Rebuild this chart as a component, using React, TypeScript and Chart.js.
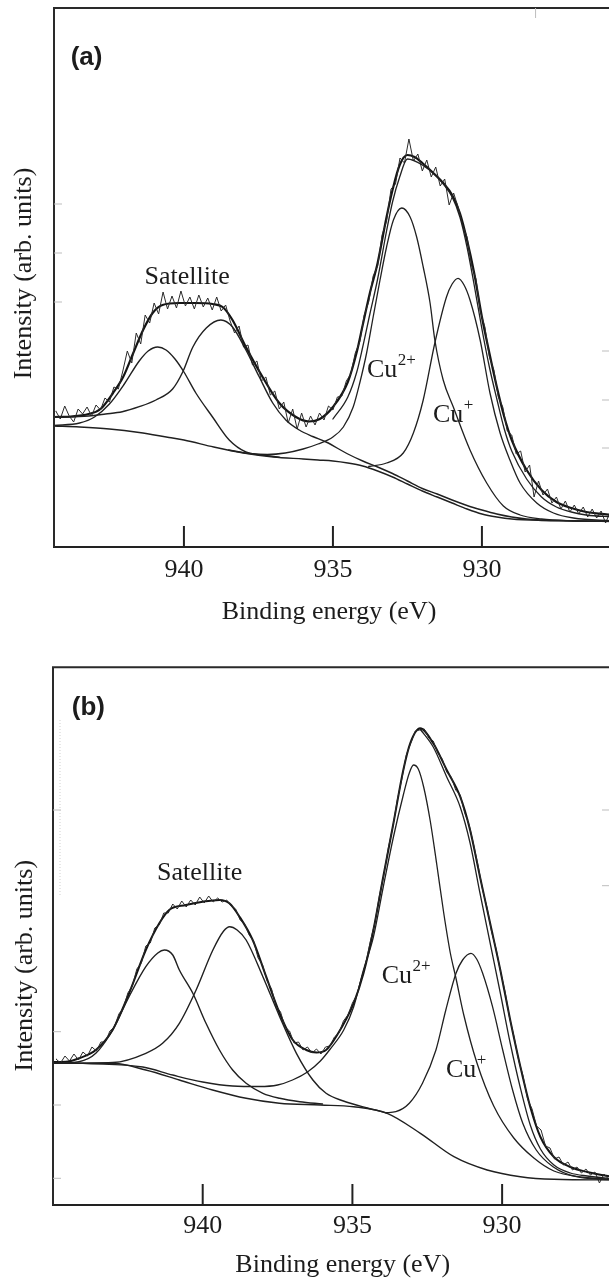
import React, { useEffect, useRef } from "react";
import { Chart, registerables } from "chart.js";

Chart.register(...registerables);

// ---------------- shared ----------------
const X_TICKS = [940, 935, 930];

// ---------------- panel (a) ----------------
const A_SCAN_START = 944.3;
const A_SCAN_STEP = 0.15;
const A_SCAN = [
  136, 128, 141, 131, 125, 138, 133, 140, 131, 142,
  137, 149, 145, 160, 158, 176, 196, 184, 214, 203,
  232, 224, 244, 233, 255, 238, 251, 239, 256, 241,
  250, 238, 252, 240, 249, 237, 250, 236, 242, 226,
  214, 221, 200, 202, 182, 186, 166, 170, 152, 156,
  138, 145, 124, 138, 118, 134, 120, 131, 122, 134,
  127, 141, 137, 150, 151, 166, 173, 194, 205, 232,
  245, 271, 281, 312, 326, 358, 363, 389, 384, 408,
  386, 393, 376, 387, 370, 380, 361, 368, 342, 354,
  340, 322, 310, 282, 268, 235, 220, 190, 177, 150,
  140, 116, 112, 93, 96, 75, 82, 50, 66, 52,
  58, 44, 50, 38, 46, 35, 42, 33, 40, 30,
  38, 29, 36, 24, 35,
];

const A_ENV_E = [944.36, 943.8, 943.2, 942.8, 942.38, 942.04, 941.7, 941.37, 941.05, 940.72, 940.16, 939.6, 939.04, 938.7, 938.37, 937.92, 937.36, 936.8, 936.24, 935.8, 935.44, 935.0, 934.5, 934.2, 934.0, 933.76, 933.5, 933.2, 933.0, 932.76, 932.5, 932.26, 932.0, 931.63, 931.3, 931.0, 930.74, 930.5, 930.26, 930.0, 929.75, 929.5, 929.25, 929.0, 928.5, 928.0, 927.5, 927.0, 926.5, 925.6];
const A_ENV_V = [130, 130.5, 133, 138, 154, 170, 194, 217, 234, 242, 244, 244, 243, 240, 227, 200, 170, 144, 130, 125.5, 128, 140, 165, 195, 222, 254, 284, 330, 357, 382, 392, 390, 384, 374, 364, 352, 334, 307, 274, 230, 194, 160, 130, 107, 77, 57, 45, 39, 35, 32];

const A_FIT_E = [935.0, 934.5, 934.2, 934.0, 933.76, 933.5, 933.2, 933.0, 932.76, 932.5, 932.0, 931.5, 931.0, 930.74, 930.5, 930.26, 930.0, 929.75, 929.5, 929.25, 929.0, 928.5, 928.0, 927.5, 927.0, 926.5, 925.6];
const A_FIT_V = [128, 150, 175, 200, 233, 268, 316, 345, 370, 388, 382, 370, 350, 330, 300, 262, 218, 180, 148, 118, 96, 68, 50, 40, 35, 32, 30];

const A_BG_E = [944.36, 943.5, 942.5, 941.5, 940.5, 940, 939, 938, 937, 936, 935.5, 935, 934.5, 934, 933.5, 933, 932.5, 932, 931.5, 931, 930.5, 930, 929.5, 929, 928, 927, 925.6];
const A_BG_V = [121, 120, 118, 114.5, 109.5, 107, 100, 94, 90, 88, 87, 86, 84, 81, 76, 70, 63, 56, 50, 44, 38, 33, 30, 28, 26.5, 26, 25.5];

const A_SAT1_E = [944.36, 943.5, 943.0, 942.5, 942.0, 941.5, 941.2, 940.88, 940.6, 940.3, 940.0, 939.6, 939.04, 938.48, 937.92, 937.36, 936.8];
const A_SAT1_V = [121.5, 124, 130, 143, 163, 186, 196, 200, 197, 188, 175, 154, 130, 107, 95, 92, 89.8];

const A_SAT2_E = [944.36, 943.2, 942.63, 942.07, 941.5, 940.94, 940.38, 940.04, 939.7, 939.25, 938.76, 938.37, 937.92, 937.47, 937.02, 936.58, 936.13, 935.68, 935.23, 934.5, 934.0, 933.5, 933.0, 932.5, 932.0, 931.5, 931.0, 930.5, 930.0, 929.5, 929.0, 928.5, 928.0, 927.0, 925.6];
const A_SAT2_V = [129.7, 131, 133, 135.3, 140.3, 147, 158, 175, 200, 219, 227, 220, 197, 170, 144, 127, 117, 110.5, 105, 93, 86, 80, 73.5, 66, 58.5, 53, 47, 41.5, 37, 33, 30, 28, 27, 26.2, 25.6];

const A_CU2_E = [938.5, 937.8, 937.2, 936.6, 936.0, 935.5, 935.0, 934.65, 934.32, 934.1, 933.87, 933.65, 933.42, 933.2, 932.97, 932.69, 932.41, 932.19, 931.97, 931.74, 931.58, 931.3, 930.96, 930.4, 929.84, 929.28, 928.72, 928.0, 927.0, 925.6];
const A_CU2_V = [97, 93.5, 92.5, 94, 98, 103, 110, 120, 140, 164, 194, 230, 267, 300, 327, 339, 330, 310, 280, 244, 207, 167, 140, 97, 64, 41, 32, 28, 26.2, 25.6];

const A_CU1_E = [933.8, 933.2, 932.64, 932.3, 931.97, 931.58, 931.19, 931.0, 930.8, 930.6, 930.4, 930.06, 929.73, 929.39, 929.06, 928.72, 928.16, 927.6, 926.93, 925.6];
const A_CU1_V = [80.5, 84, 94, 114, 147, 204, 250, 263, 268.7, 262, 247, 207, 154, 114, 87, 64, 44, 34, 29, 26];

// ---------------- panel (b) ----------------
const B_SCAN_START = 944.9;
const B_SCAN_STEP = 0.15;
const B_SCAN = [
  146, 142, 149, 144, 151, 145, 153, 149, 158, 154,
  163, 163, 174, 178, 191, 197, 212, 219, 236, 242,
  259, 262, 277, 280, 292, 292, 301, 296, 304, 298,
  305, 300, 308, 302, 309, 303, 307, 303, 305, 299,
  296, 285, 281, 270, 264, 247, 240, 224, 216, 199,
  193, 178, 174, 162, 163, 155, 158, 152, 156, 151,
  158, 159, 168, 172, 184, 190, 202, 210, 227, 242,
  264, 282, 309, 330, 357, 378, 405, 426, 450, 462,
  474, 475, 476, 467, 464, 452, 446, 433, 428, 415,
  410, 392, 380, 360, 339, 315, 297, 273, 256, 233,
  213, 187, 168, 145, 129, 106, 96, 79, 75, 59,
  57, 46, 48, 40, 43, 35, 38, 32, 36, 30,
  33, 22, 31, 26,
];

const B_ENV_E = [945.0, 944.5, 944.13, 943.57, 943.01, 942.46, 941.9, 941.45, 941.12, 940.56, 940.0, 939.44, 939.11, 938.77, 938.33, 937.88, 937.43, 936.99, 936.54, 936.2, 935.88, 935.51, 934.96, 934.63, 934.3, 933.97, 933.63, 933.3, 933.07, 932.74, 932.3, 931.85, 931.4, 931.07, 930.74, 930.4, 930.06, 929.73, 929.39, 929.06, 928.72, 928.27, 927.72, 927.16, 926.2];
const B_ENV_V = [143, 143.5, 146.7, 155, 175, 211.7, 255, 281.7, 295, 300, 303.3, 305, 301.7, 288.3, 265, 228.3, 191.7, 165, 155, 152.5, 155, 170, 201.7, 231.7, 275, 328.3, 381.7, 435, 461.7, 476.7, 461.7, 435, 408.3, 375, 328.3, 281.7, 235, 185, 138.3, 98, 68, 48, 38, 33, 27.5];

const B_FIT_E = [932.74, 932.3, 931.85, 931.4, 931.07, 930.74, 930.4, 930.06, 929.73, 929.39, 929.06, 928.72, 928.27, 927.72, 927.16, 926.2];
const B_FIT_V = [476, 458, 428, 398, 362, 312, 262, 212, 162, 117, 80, 56, 40, 32, 29, 26];

const B_BG_E = [945.0, 943.0, 941.9, 940.78, 939.67, 938.55, 937.44, 936.07, 934.96, 933.84, 932.73, 931.61, 930.5, 929.39, 928.27, 926.2];
const B_BG_V = [141.7, 141.7, 135, 125, 115, 106.7, 101.7, 100, 98.3, 91.7, 71.7, 48.3, 35, 28.3, 25.7, 25];

const B_SAT1_E = [945.0, 944.13, 943.57, 943.01, 942.46, 941.9, 941.5, 941.28, 941.0, 940.78, 940.33, 939.89, 939.44, 939.0, 938.55, 937.99, 937.43, 936.76, 936.0];
const B_SAT1_V = [141.7, 143.3, 151.7, 175, 208.3, 238.3, 252, 255, 250, 235, 211.7, 181.7, 155, 135, 121.7, 111.7, 106.7, 103.3, 101];

const B_SAT2_E = [945.0, 943.0, 941.9, 941.34, 940.78, 940.22, 939.66, 939.3, 939.1, 938.85, 938.55, 937.99, 937.43, 936.87, 936.32, 935.88, 935.3, 934.5, 933.84];
const B_SAT2_V = [141.7, 142.5, 151.7, 161.7, 181.7, 215, 255, 274, 278.3, 275, 265, 228.3, 188.3, 151.7, 125, 111.7, 104, 97, 92];

const B_CU2_E = [944.0, 942.0, 941.0, 940.0, 939.0, 938.1, 937.5, 937.0, 936.5, 936.07, 935.74, 935.29, 934.96, 934.64, 934.3, 933.97, 933.63, 933.3, 933.1, 932.96, 932.8, 932.62, 932.4, 932.18, 931.95, 931.73, 931.55, 931.28, 930.84, 930.28, 929.61, 928.94, 928.27, 927.38, 926.2];
const B_CU2_V = [141.7, 138, 130, 123, 119, 118.5, 120, 125, 133, 144, 156, 175, 198, 234, 268, 318, 368, 410, 432, 440, 436, 418, 384, 340, 292, 252, 228, 190, 142, 99, 67, 47, 34, 28, 25.3];

const B_CU1_E = [933.88, 933.55, 933.1, 932.66, 932.21, 931.88, 931.54, 931.32, 931.04, 930.85, 930.65, 930.32, 929.98, 929.65, 929.31, 928.86, 928.3, 927.52, 926.2];
const B_CU1_V = [92.3, 93.3, 101.7, 121.7, 155, 195, 231.7, 245, 251.7, 246, 231.7, 198.3, 155, 115, 81.7, 55, 38.3, 28.3, 25.3];

// ---------------- helpers ----------------
const SERIF = '"Liberation Serif", "Times New Roman", serif';
const SANS = '"Liberation Sans", Arial, sans-serif';
const INK = "#1c1c1c";

function pairs(E: number[], V: number[]) {
  return E.map((e, i) => ({ x: e, y: V[i] }));
}
function scanPoints(start: number, step: number, V: number[]) {
  return V.map((v, i) => ({ x: Math.round((start - i * step) * 100) / 100, y: v }));
}

type Ann = { text: string; sup?: string; x: number; y: number };
type Panel = {
  key: string;
  height: number;
  padLeft: number;
  padRight: number;
  padTop: number;
  axisH: number;
  xMin: number;
  xMax: number;
  yMax: number;
  tickPad: number;
  label: { text: string; x: number; y: number };
  yTitle: { x: number; y: number };
  xTitle: { x: number; y: number };
  anns: Ann[];
  leftTicks: number[];
  rightTicks: number[];
  topMark?: number;
  dotted?: { x: number; y1: number; y2: number };
  datasets: any[];
};

function smooth(data: any[], width: number, color = "#202020") {
  return {
    data,
    borderColor: color,
    borderWidth: width,
    pointRadius: 0,
    fill: false,
    cubicInterpolationMode: "monotone",
  };
}
function raw(data: any[]) {
  return {
    data,
    borderColor: "#2a2a2a",
    borderWidth: 1,
    pointRadius: 0,
    fill: false,
    tension: 0,
  };
}

const PANEL_A: Panel = {
  key: "a",
  height: 640,
  padLeft: 54,
  padRight: 28,
  padTop: 8,
  axisH: 93,
  xMin: 925.635,
  xMax: 944.36,
  yMax: 539,
  tickPad: 8,
  label: { text: "(a)", x: 70.7, y: 64.5 },
  yTitle: { x: 31, y: 273.5 },
  xTitle: { x: 329, y: 619 },
  anns: [
    { text: "Satellite", x: 144.5, y: 283.5 },
    { text: "Cu", sup: "2+", x: 367, y: 376.7 },
    { text: "Cu", sup: "+", x: 433, y: 421.7 },
  ],
  leftTicks: [245, 294, 343],
  rightTicks: [99, 147, 196],
  topMark: 928.2,
  datasets: [
    smooth(pairs(A_BG_E, A_BG_V), 1.4),
    smooth(pairs(A_SAT1_E, A_SAT1_V), 1.4),
    smooth(pairs(A_SAT2_E, A_SAT2_V), 1.4),
    smooth(pairs(A_CU2_E, A_CU2_V), 1.3),
    smooth(pairs(A_CU1_E, A_CU1_V), 1.3),
    smooth(pairs(A_FIT_E, A_FIT_V), 1.3),
    raw(scanPoints(A_SCAN_START, A_SCAN_STEP, A_SCAN)),
    smooth(pairs(A_ENV_E, A_ENV_V), 2.2, "#141414"),
  ],
};

const PANEL_B: Panel = {
  key: "b",
  height: 638,
  padLeft: 53,
  padRight: 28,
  padTop: 27.3,
  axisH: 73,
  xMin: 926.33,
  xMax: 945.0,
  yMax: 537.7,
  tickPad: 6,
  label: { text: "(b)", x: 71.8, y: 74.5 },
  yTitle: { x: 31.5, y: 325.7 },
  xTitle: { x: 342.7, y: 631.7 },
  anns: [
    { text: "Satellite", x: 157, y: 240 },
    { text: "Cu", sup: "2+", x: 381.7, y: 343.3 },
    { text: "Cu", sup: "+", x: 446, y: 436.7 },
  ],
  leftTicks: [26.7, 100, 173.3, 395],
  rightTicks: [319.3, 395],
  dotted: { x: 60, y1: 80, y2: 255 },
  datasets: [
    smooth(pairs(B_BG_E, B_BG_V), 1.4),
    smooth(pairs(B_SAT1_E, B_SAT1_V), 1.4),
    smooth(pairs(B_SAT2_E, B_SAT2_V), 1.4),
    smooth(pairs(B_CU2_E, B_CU2_V), 1.3),
    smooth(pairs(B_CU1_E, B_CU1_V), 1.3),
    smooth(pairs(B_FIT_E, B_FIT_V), 1.3),
    raw(scanPoints(B_SCAN_START, B_SCAN_STEP, B_SCAN)),
    smooth(pairs(B_ENV_E, B_ENV_V), 2.0, "#141414"),
  ],
};

function decorPlugin(p: Panel) {
  return {
    id: "decor_" + p.key,
    afterDraw(chart: any) {
      const { ctx, chartArea: ca, scales } = chart;
      const xs = scales.x;
      const ys = scales.y;
      ctx.save();
      // frame: left + top + right
      ctx.strokeStyle = "#2a2a2a";
      ctx.lineWidth = 2;
      ctx.beginPath();
      ctx.moveTo(ca.left, ca.bottom);
      ctx.lineTo(ca.left, ca.top);
      ctx.lineTo(ca.right, ca.top);
      ctx.lineTo(ca.right, ca.bottom);
      ctx.stroke();
      // inward x tick marks
      ctx.lineWidth = 2;
      ctx.strokeStyle = "#222";
      for (const v of X_TICKS) {
        const px = xs.getPixelForValue(v);
        ctx.beginPath();
        ctx.moveTo(px, ca.bottom);
        ctx.lineTo(px, ca.bottom - 21);
        ctx.stroke();
      }
      // faint scan artefacts: y ticks, top mark, dotted guide
      ctx.lineWidth = 1;
      ctx.strokeStyle = "#bdbdbd";
      for (const v of p.leftTicks) {
        const py = ys.getPixelForValue(v);
        ctx.beginPath();
        ctx.moveTo(ca.left, py);
        ctx.lineTo(ca.left + 8, py);
        ctx.stroke();
      }
      for (const v of p.rightTicks) {
        const py = ys.getPixelForValue(v);
        ctx.beginPath();
        ctx.moveTo(ca.right, py);
        ctx.lineTo(ca.right - 10, py);
        ctx.stroke();
      }
      if (p.topMark !== undefined) {
        const px = xs.getPixelForValue(p.topMark);
        ctx.beginPath();
        ctx.moveTo(px, ca.top);
        ctx.lineTo(px, ca.top + 10);
        ctx.stroke();
      }
      if (p.dotted) {
        ctx.strokeStyle = "#cfcfcf";
        ctx.setLineDash([1, 2]);
        ctx.beginPath();
        ctx.moveTo(p.dotted.x, p.dotted.y1);
        ctx.lineTo(p.dotted.x, p.dotted.y2);
        ctx.stroke();
        ctx.setLineDash([]);
      }
      ctx.fillStyle = INK;
      // panel label
      ctx.font = `bold 26px ${SANS}`;
      ctx.textAlign = "left";
      ctx.textBaseline = "alphabetic";
      ctx.fillText(p.label.text, p.label.x, p.label.y);
      // annotations
      for (const a of p.anns) {
        ctx.font = `26px ${SERIF}`;
        ctx.textAlign = "left";
        ctx.fillText(a.text, a.x, a.y);
        if (a.sup) {
          const w = ctx.measureText(a.text).width;
          ctx.font = `17px ${SERIF}`;
          ctx.fillText(a.sup, a.x + w + 0.5, a.y - 12);
        }
      }
      // x title
      ctx.font = `26px ${SERIF}`;
      ctx.textAlign = "center";
      ctx.fillText("Binding energy (eV)", p.xTitle.x, p.xTitle.y);
      // y title
      ctx.translate(p.yTitle.x, p.yTitle.y);
      ctx.rotate(-Math.PI / 2);
      ctx.textAlign = "center";
      ctx.fillText("Intensity (arb. units)", 0, 0);
      ctx.restore();
    },
  };
}

function makeConfig(p: Panel): any {
  return {
    type: "line",
    data: { datasets: p.datasets },
    options: {
      responsive: false,
      animation: false,
      devicePixelRatio: 1,
      layout: { padding: { left: p.padLeft, right: p.padRight, top: p.padTop, bottom: 0 } },
      plugins: { legend: { display: false }, tooltip: { enabled: false } },
      elements: { point: { radius: 0 }, line: { borderJoinStyle: "round", borderCapStyle: "round" } },
      scales: {
        x: {
          type: "linear",
          reverse: true,
          min: p.xMin,
          max: p.xMax,
          afterFit: (s: any) => {
            s.height = p.axisH;
          },
          afterBuildTicks: (s: any) => {
            s.ticks = X_TICKS.map((v) => ({ value: v }));
          },
          grid: { display: false, drawTicks: false },
          border: { display: true, color: "#222", width: 2 },
          ticks: {
            font: { family: SERIF, size: 26 },
            color: INK,
            padding: p.tickPad,
            maxRotation: 0,
            autoSkip: false,
            callback: (v: any) => String(v),
          },
        },
        y: { display: false, min: 0, max: p.yMax },
      },
    },
    plugins: [decorPlugin(p)],
  };
}

function PanelChart({ p, top }: { p: Panel; top: number }) {
  const ref = useRef<HTMLCanvasElement | null>(null);
  useEffect(() => {
    if (!ref.current) return;
    const chart = new Chart(ref.current, makeConfig(p));
    return () => chart.destroy();
  }, [p]);
  return (
    <canvas
      ref={ref}
      width={640}
      height={p.height}
      style={{ position: "absolute", left: 0, top, width: 640, height: p.height }}
    />
  );
}

export default function App() {
  return (
    <div
      style={{
        position: "absolute",
        left: 0,
        top: 0,
        width: 609,
        height: 1278,
        overflow: "hidden",
        background: "#ffffff",
      }}
    >
      <PanelChart p={PANEL_A} top={0} />
      <PanelChart p={PANEL_B} top={640} />
    </div>
  );
}
